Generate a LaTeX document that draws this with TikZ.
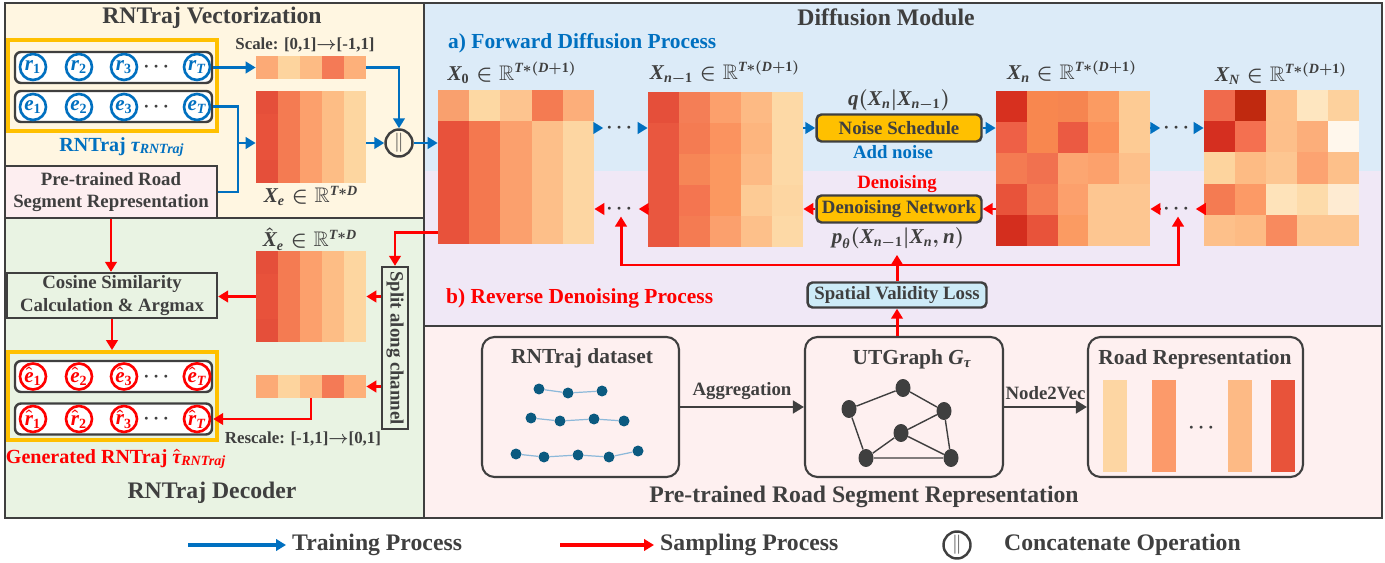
\documentclass[tikz,border=0pt]{standalone}
\usepackage{fontspec}
\setmainfont{Liberation Serif}
\usepackage{amsmath,amssymb,bm}
\usetikzlibrary{positioning,fit,calc,arrows.meta,shapes.geometric}

\definecolor{dgray}{HTML}{3F3F3F}
\definecolor{tblue}{HTML}{0070C0}
\definecolor{sred}{HTML}{FF0000}
\definecolor{gold}{HTML}{FFC000}
\definecolor{creambg}{HTML}{FFF6E1}
\definecolor{greenbg}{HTML}{E9F3E3}
\definecolor{bluebg}{HTML}{DCEBF8}
\definecolor{purplebg}{HTML}{F0E8F6}
\definecolor{pinkbg}{HTML}{FEF0F0}
\definecolor{pinkbox}{HTML}{FDEEF0}
\definecolor{svlblue}{HTML}{CDEBF7}
\definecolor{trajdot}{HTML}{0B5A80}
\definecolor{trajline}{HTML}{8DB9DA}

\newcommand{\titlefont}{\fontsize{13.5}{16}\selectfont\bfseries\boldmath}
\newcommand{\labfont}{\fontsize{12.2}{14}\selectfont\bfseries\boldmath}
\newcommand{\mathfont}{\fontsize{12}{14}\selectfont\bfseries\boldmath}
\newcommand{\taufont}{\fontsize{11.4}{13}\selectfont\bfseries\boldmath}
\newcommand{\txtfont}{\fontsize{10.7}{12.6}\selectfont\bfseries\boldmath}
\newcommand{\smfont}{\fontsize{9.6}{11}\selectfont\bfseries\boldmath}
\newcommand{\mv}[1]{\textit{#1}}

% heat map: name, x, y (top left), cols, rows, cell w, cell h, colours
\newcommand{\heatmap}[8]{%
  \foreach \hc [count=\hi from 0] in {#8} {
    \pgfmathtruncatemacro\hcol{mod(\hi,#4)}
    \pgfmathtruncatemacro\hrow{\hi/#4}
    \edef\hdef{\noexpand\definecolor{hcell}{HTML}{\hc}}\hdef
    \fill[hcell] ({#2+\hcol*#6},{#3+\hrow*#7}) rectangle ++(#6,#7);
  }
  \node[fit={(#2,#3) ({#2+#4*#6},{#3+#5*#7})},inner sep=0pt] (#1) {};
}

\tikzset{
  every node/.style={text=dgray},
  panel/.style={draw=dgray,line width=1.4pt},
  tok/.style={circle,draw=#1,text=#1,line width=1.5pt,minimum size=0.52cm,
    inner sep=0pt,font=\fontsize{12}{12}\selectfont\bfseries\boldmath},
  rowbox/.style={draw=dgray,line width=1.4pt,rounded corners=1.2mm,fill=white,
    minimum width=3.94cm,minimum height=0.62cm},
  goldbox/.style={draw=gold,line width=2.2pt,inner sep=0pt},
  plainbox/.style={draw=dgray,line width=1.3pt,align=center,font=\txtfont,inner sep=0pt},
  opbox/.style={draw=dgray,line width=1.4pt,rounded corners=1mm,fill=gold,font=\txtfont,
    minimum height=0.54cm,minimum width=3.3cm,inner sep=0pt},
  svlbox/.style={opbox,fill=svlblue,minimum width=3.58cm,minimum height=0.5cm},
  tarr/.style={draw=tblue,line width=1.7pt,-{Triangle[length=2mm,width=2.3mm]}},
  sarr/.style={draw=sred,line width=1.7pt,-{Triangle[length=2mm,width=2.3mm]}},
  karr/.style={draw=dgray,line width=1.7pt,-{Triangle[length=2.2mm,width=2.5mm]}},
  stage/.style={draw=dgray,line width=1.2pt,rounded corners=2.5mm,minimum height=2.8cm},
  gnode/.style={ellipse,fill=dgray,minimum width=0.3cm,minimum height=0.36cm,inner sep=0pt},
  tdot/.style={circle,fill=trajdot,minimum size=0.22cm,inner sep=0pt},
  bar/.style={minimum width=0.48cm,minimum height=1.84cm,inner sep=0pt},
  concat/.style={circle,draw=dgray,line width=1.4pt,minimum size=0.54cm,inner sep=0pt,
    font=\fontsize{11}{11}\selectfont},
  dotsn/.style={inner sep=1.5pt,font=\txtfont}
}

\begin{document}
\begin{tikzpicture}[x=0.02cm,y=-0.02cm]
  \useasboundingbox (0,0) rectangle (1385,563);

  % panels
  \fill[creambg] (5,3) rectangle (424,218);
  \fill[greenbg] (5,218) rectangle (424,518);
  \fill[bluebg] (424,3) rectangle (1382,171);
  \fill[purplebg] (424,171) rectangle (1382,326);
  \fill[pinkbg] (424,326) rectangle (1382,518);
  \draw[panel] (5,3) rectangle (424,218);
  \draw[panel] (5,218) rectangle (424,518);
  \draw[panel] (424,3) rectangle (1382,518);
  \draw[panel] (424,326) -- (1382,326);

  % RNTraj vectorization
  \node[font=\titlefont] (vectitle) at (212,18) {RNTraj Vectorization};
  \node[rowbox] (rrow) at (113.5,67.5) {};
  \node[rowbox] (erow) at (113.5,106.5) {};
  \node[goldbox,fit={(8,40) (217,131)}] (traj) {};
  \node[tok=tblue] (r1) at (33,67) {$\mv{r}_{\text{1}}$};
  \node[tok=tblue] (r2) at (79,67) {$\mv{r}_{\text{2}}$};
  \node[tok=tblue] (r3) at (124,67) {$\mv{r}_{\text{3}}$};
  \node[dotsn] (rdots) at (158,67) {$\cdots$};
  \node[tok=tblue] (rT) at (197,67) {$\mv{r}_{\mv{T}}$};
  \node[tok=tblue] (e1) at (33,107) {$\mv{e}_{\text{1}}$};
  \node[tok=tblue] (e2) at (79,107) {$\mv{e}_{\text{2}}$};
  \node[tok=tblue] (e3) at (124,107) {$\mv{e}_{\text{3}}$};
  \node[dotsn] (edots) at (158,107) {$\cdots$};
  \node[tok=tblue] (eT) at (197,107) {$\mv{e}_{\mv{T}}$};
  \node[font=\taufont,text=tblue] (trajlab) at (122,147) {RNTraj $\mv{τ}_{\mv{RNTraj}}$};
  \node[plainbox,fill=pinkbox,minimum width=4.24cm,minimum height=1.04cm] (pretrain) at (111,192)
    {Pre-trained Road\\Segment Representation};

  \node[font=\smfont] (scalelab) at (305,45) {Scale: [0,1]$\rightarrow$[-1,1]};
  \heatmap{scalebar}{256}{56}{5}{1}{22}{23}{FCAA76,FDD49E,FDBB84,F47A56,FDB07A}
  \heatmap{xe}{256}{91}{5}{4}{22}{23}{E54F3A,F47B52,FCA06C,FDBD85,FDD6A0,
    E8523B,F47B52,FCA06C,FDBD85,FDD6A0,E8523B,F47B52,FCA06C,FDBD85,FDD6A0,
    E54F3A,F47B52,FCA06C,FDBD85,FDD6A0}
  \node[font=\mathfont] (xelab) at (311,196) {$\mv{X}_{\mv{e}}\in\mathbb{R}^{\mv{T}*\mv{D}}$};
  \node[concat] (cat) at (399,143) {$\|$};
  \coordinate (join) at (238,143);

  \draw[tarr] (rrow.east) -- (scalebar.west);
  \draw[tarr] (scalebar.east) -| (cat.north);
  \draw[tarr] (xe.east |- cat) -- (cat.west);
  \draw[tblue,line width=1.7pt] (pretrain.east) -| (join);
  \draw[tarr] (erow.east) -| (join) -- (xe.west |- cat);

  % diffusion module
  \node[font=\titlefont] (difftitle) at (886,17) {Diffusion Module};
  \node[font=\labfont,text=tblue,anchor=west] (fwdlab) at (442,43) {a) Forward Diffusion Process};
  \node[font=\labfont,text=sred,anchor=west] (revlab) at (440,298) {b) Reverse Denoising Process};

  \heatmap{x0}{438}{90}{5}{5}{31.2}{30.8}{F9A06E,FDD8A3,FDC48F,F47B52,FCAE7A,
    E8523B,F4784F,FBA06D,FDBF89,FDD6A2,E8523B,F4784F,FBA06D,FDBF89,FDD6A2,
    E8523B,F4784F,FBA06D,FDBF89,FDD6A2,E8523B,F4784F,FBA06D,FDBF89,FDD6A2}
  \heatmap{xn1}{648}{92}{5}{5}{31}{31}{E54F3A,F47E56,FCA06C,FDBA84,FDD9A6,
    E9573F,F47B52,FB935F,FDB57E,FDD9A6,E9573F,F68656,FB9860,FDBA84,FDD9A6,
    E9573F,F47550,FB9860,FDCB95,FDD6A2,E9573F,F47B52,FBA06D,FDC08A,FDD9A6}
  \heatmap{xn}{996}{91}{5}{5}{30.8}{31}{D7301F,F8874F,F68550,FB9B62,FDCB94,
    EE6046,F8874F,EB5A42,FB9059,FDCB94,F47B52,F1714F,FCA671,FCA16C,FDC08A,
    E8533A,F47B52,FCA06C,FDC691,FDC691,D42E1E,E8533A,FB9B62,FDC691,FDC691}
  \heatmap{xN}{1204}{90}{5}{5}{31}{31.2}{F06A4C,C0290F,FDC08A,FEE6C0,FDD19D,
    D52F20,F47050,FDBF8A,FCAE7A,FFF7EC,FDD49E,FDBB84,FDC691,FCA371,FDC08A,
    F47B52,FC9A66,FEE3BA,FDDBAA,FEEBD2,FDC08A,FDBB84,F88A5E,FDC691,FDC691}
  \node[font=\mathfont] (x0lab) at (512,73) {$\mv{X}_{\text{0}}\in\mathbb{R}^{\mv{T}*(\mv{D}+\text{1})}$};
  \node[font=\mathfont] (xn1lab) at (725,73) {$\mv{X}_{\mv{n}-\text{1}}\in\mathbb{R}^{\mv{T}*(\mv{D}+\text{1})}$};
  \node[font=\mathfont] (xnlab) at (1072,72) {$\mv{X}_{\mv{n}}\in\mathbb{R}^{\mv{T}*(\mv{D}+\text{1})}$};
  \node[font=\mathfont] (xNlab) at (1281,74) {$\mv{X}_{\mv{N}}\in\mathbb{R}^{\mv{T}*(\mv{D}+\text{1})}$};

  \node[opbox] (noise) at (899,128) {Noise Schedule};
  \node[opbox] (denoise) at (899,209) {Denoising Network};
  \node[font=\mathfont] (qlab) at (899,100) {$\mv{q}(\mv{X}_{\mv{n}}|\mv{X}_{\mv{n}-\text{1}})$};
  \node[font=\txtfont,text=tblue] (addlab) at (893,152) {Add noise};
  \node[font=\txtfont,text=sred] (denlab) at (897,184) {Denoising};
  \node[font=\mathfont] (plab) at (898,238) {$\mv{p}_{\mv{θ}}(\mv{X}_{\mv{n}-\text{1}}|\mv{X}_{\mv{n}},\mv{n})$};
  \node[dotsn] (fdotA) at (621,128) {$\cdots$};
  \node[dotsn] (fdotB) at (1178,128) {$\cdots$};
  \node[dotsn] (rdotA) at (621,209) {$\cdots$};
  \node[dotsn] (rdotB) at (1178,209) {$\cdots$};

  \draw[tarr] (cat.east) -- (x0.west |- cat);
  \draw[tarr] (x0.east |- fdotA) -- (fdotA.west);
  \draw[tarr] (fdotA.east) -- (xn1.west |- fdotA);
  \draw[tarr] (xn1.east |- noise) -- (noise.west);
  \draw[tarr] (noise.east) -- (xn.west |- noise);
  \draw[tarr] (xn.east |- fdotB) -- (fdotB.west);
  \draw[tarr] (fdotB.east) -- (xN.west |- fdotB);

  \draw[sarr] (xN.west |- rdotB) -- (rdotB.east);
  \draw[sarr] (rdotB.west) -- (xn.east |- rdotB);
  \draw[sarr] (xn.west |- denoise) -- (denoise.east);
  \draw[sarr] (denoise.west) -- (xn1.east |- denoise);
  \draw[sarr] (xn1.west |- rdotA) -- (rdotA.east);
  \draw[sarr] (rdotA.west) -- (x0.east |- rdotA);

  \coordinate (loopL) at (621,265);
  \coordinate (loopR) at (1178,265);
  \draw[sarr,{Triangle[length=2mm,width=2.3mm]}-{Triangle[length=2mm,width=2.3mm]}]
    (rdotA.south) -- (loopL) -- (loopR) -- (rdotB.south);
  \node[svlbox] (svl) at (897,295) {Spatial Validity Loss};
  \draw[sarr] (svl.north) -- (plab.south -| svl);

  % pre-trained road segment representation
  \node[stage,minimum width=3.94cm] (dataset) at (580.5,407) {};
  \node[font=\labfont] (datalab) at (582,358) {RNTraj dataset};
  \node[tdot] (t11) at (539,389) {};
  \node[tdot] (t12) at (568,393) {};
  \node[tdot] (t13) at (602,391) {};
  \node[tdot] (t21) at (531,418) {};
  \node[tdot] (t22) at (560,421) {};
  \node[tdot] (t23) at (594,419) {};
  \node[tdot] (t24) at (624,421) {};
  \node[tdot] (t31) at (516,454) {};
  \node[tdot] (t32) at (544,457) {};
  \node[tdot] (t33) at (578,455) {};
  \node[tdot] (t34) at (609,457) {};
  \node[tdot] (t35) at (638,451) {};
  \draw[trajline,line width=0.7pt] (t11) -- (t12) -- (t13)
    (t21) -- (t22) -- (t23) -- (t24)
    (t31) -- (t32) -- (t33) -- (t34) -- (t35);

  \node[stage,minimum width=3.96cm] (utg) at (904,407) {};
  \node[font=\labfont] (utglab) at (912,359) {UTGraph $\mv{G}_{\mv{τ}}$};
  \node[gnode] (g1) at (849,409) {};
  \node[gnode] (g2) at (903,388) {};
  \node[gnode] (g3) at (944,411) {};
  \node[gnode] (g4) at (901,433) {};
  \node[gnode] (g5) at (866,458) {};
  \node[gnode] (g6) at (951,458) {};
  \draw[dgray,line width=0.8pt] (g1) -- (g2) -- (g3) -- (g4) -- (g5) -- (g1)
    (g4) -- (g6) -- (g5) (g3) -- (g6);

  \node[stage,minimum width=4.3cm] (roadrep) at (1195.5,407) {};
  \node[font=\labfont] (roadlab) at (1195,359) {Road Representation};
  \node[bar,fill={rgb,255:red,253;green,214;blue,163}] (b1) at (1115,426) {};
  \node[bar,fill={rgb,255:red,252;green,154;blue,106}] (b2) at (1163.5,426) {};
  \node[dotsn] (bdots) at (1203,428) {$\cdots$};
  \node[bar,fill={rgb,255:red,253;green,186;blue,133}] (b3) at (1240,426) {};
  \node[bar,fill={rgb,255:red,232;green,83;blue,58}] (b4) at (1283,426) {};

  \draw[karr] (dataset.east) -- node[above,font=\txtfont] (agglab) {Aggregation} (utg.west);
  \draw[karr] (utg.east) -- node[above,font=\txtfont] (n2vlab) {Node2Vec} (roadrep.west);
  \draw[sarr] (utg.north -| svl) -- (svl.south);
  \node[font=\titlefont] (pretitle) at (864,497) {Pre-trained Road Segment Representation};

  % RNTraj decoder
  \node[plainbox,minimum width=4.2cm,minimum height=0.9cm] (cosine) at (112,295.5)
    {Cosine Similarity\\Calculation \& Argmax};
  \heatmap{xhat}{256}{251}{5}{4}{22}{22.75}{E54F3A,F47B52,FCA06C,FDBD85,FDD6A0,
    E8523B,F47B52,FCA06C,FDBD85,FDD6A0,E8523B,F47B52,FCA06C,FDBD85,FDD6A0,
    E54F3A,F47B52,FCA06C,FDBD85,FDD6A0}
  \node[font=\mathfont] (xhatlab) at (310,239) {$\hat{\mv{X}}_{\mv{e}}\in\mathbb{R}^{\mv{T}*\mv{D}}$};
  \heatmap{rsbar}{256}{375}{5}{1}{22}{23}{FCAA76,FDD49E,FDBB84,F47A56,FDB07A}
  \node[plainbox,minimum width=0.52cm,minimum height=3.24cm] (split) at (395,348) {};
  \node[rotate=-90,font=\txtfont] (splitlab) at (split) {Split along channel};
  \node[font=\smfont] (rescalelab) at (303,439) {Rescale: [-1,1]$\rightarrow$[0,1]};

  \node[rowbox] (ehrow) at (113.5,376.5) {};
  \node[rowbox] (rhrow) at (113.5,419) {};
  \node[goldbox,fit={(8,352) (217,440)}] (gen) {};
  \node[tok=sred] (eh1) at (33,376.5) {$\hat{\mv{e}}_{\text{1}}$};
  \node[tok=sred] (eh2) at (79,376.5) {$\hat{\mv{e}}_{\text{2}}$};
  \node[tok=sred] (eh3) at (124,376.5) {$\hat{\mv{e}}_{\text{3}}$};
  \node[dotsn] (ehdots) at (158,376.5) {$\cdots$};
  \node[tok=sred] (ehT) at (197,376.5) {$\hat{\mv{e}}_{\mv{T}}$};
  \node[tok=sred] (rh1) at (33,419) {$\hat{\mv{r}}_{\text{1}}$};
  \node[tok=sred] (rh2) at (79,419) {$\hat{\mv{r}}_{\text{2}}$};
  \node[tok=sred] (rh3) at (124,419) {$\hat{\mv{r}}_{\text{3}}$};
  \node[dotsn] (rhdots) at (158,419) {$\cdots$};
  \node[tok=sred] (rhT) at (197,419) {$\hat{\mv{r}}_{\mv{T}}$};
  \node[font=\taufont,text=sred] (genlab) at (116,459) {Generated RNTraj $\hat{\mv{τ}}_{\mv{RNTraj}}$};
  \node[font=\titlefont] (dectitle) at (212,493) {RNTraj Decoder};

  \draw[sarr] ([yshift=0.24cm]x0.south west) -| (split.north);
  \draw[sarr] (split.west |- xhat) -- (xhat.east);
  \draw[sarr] (split.west |- rsbar) -- (rsbar.east);
  \draw[sarr] (rsbar.south) |- (rhrow.east);
  \draw[sarr] (xhat.west) -- (cosine.east |- xhat);
  \draw[sarr] (pretrain.south) -- (pretrain.south |- cosine.north);
  \draw[sarr] (cosine.south) -- (cosine.south |- gen.north);

  % legend
  \node[font=\titlefont,anchor=west] (legtrain) at (286,545) {Training Process};
  \node[font=\titlefont,anchor=west] (legsamp) at (654,545) {Sampling Process};
  \node[concat] (legcat) at (957,545) {$\|$};
  \node[font=\titlefont,anchor=west] (legcatlab) at (998,545) {Concatenate Operation};
  \coordinate (legtrainA) at (188,545);
  \coordinate (legsampA) at (560,545);
  \draw[tarr,line width=2.2pt] (legtrainA) -- (legtrain.west);
  \draw[sarr,line width=2.2pt] (legsampA) -- (legsamp.west);
\end{tikzpicture}
\end{document}
